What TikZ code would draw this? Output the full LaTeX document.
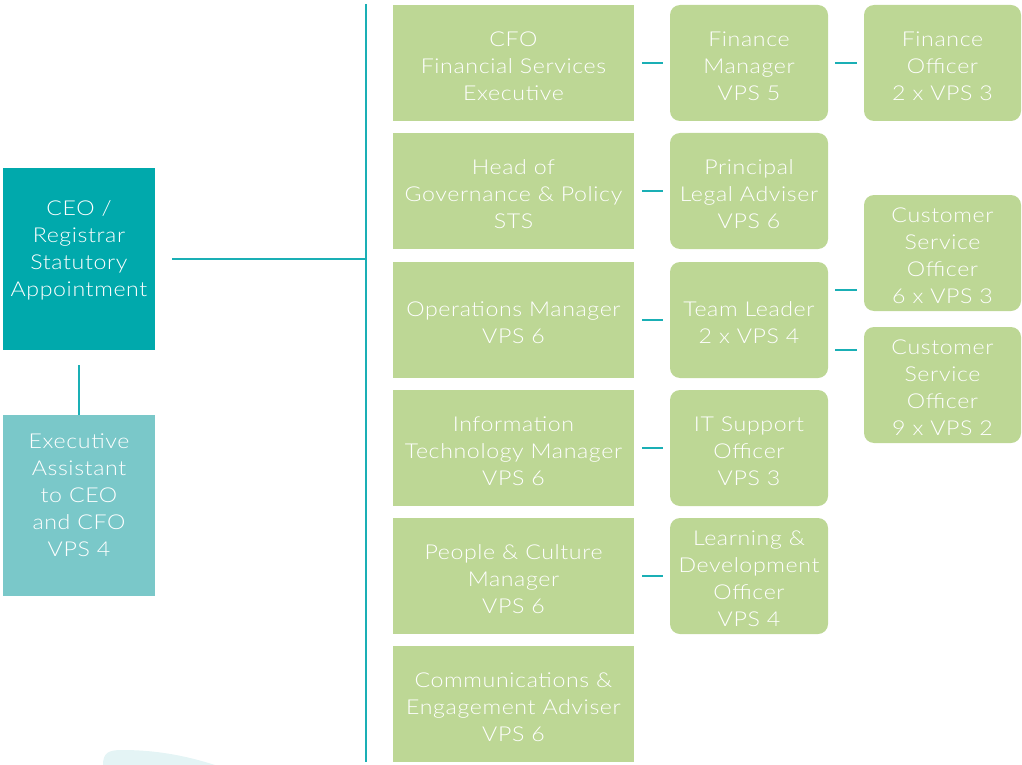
\documentclass[tikz,border=0pt]{standalone}
\usepackage{fontspec}
\setmainfont{Lato}[UprightFont={* Light},FakeStretch=1.13,LetterSpace=3]
\definecolor{boxgreen}{HTML}{BDD795}
\definecolor{ceoteal}{HTML}{00A9AC}
\definecolor{eateal}{HTML}{7AC8C9}
\definecolor{lineteal}{HTML}{1AAFB5}
\definecolor{bgcurve}{HTML}{E4F4F5}
\newcommand{\firstln}{\rule{0pt}{21pt}}
\begin{document}
\begin{tikzpicture}[x=1pt,y=1pt,
  base/.style={text=white, align=center, inner sep=0pt, font=\fontsize{20.5}{27}\selectfont},
  sq/.style={base, fill=boxgreen, minimum width=241pt, minimum height=116pt},
  rd/.style={base, fill=boxgreen, rounded corners=10pt, minimum width=158pt, minimum height=116pt},
  rdthree/.style={base, fill=boxgreen, rounded corners=10pt, minimum width=157pt, minimum height=116pt},
  ceobox/.style={base, fill=ceoteal, minimum width=152pt, minimum height=182pt},
  eabox/.style={base, fill=eateal, minimum width=152pt, minimum height=181pt},
  link/.style={draw=lineteal, line width=1.8pt}
]
\useasboundingbox (0,0) rectangle (1022,-765);
\fill[bgcurve] (103,-765) .. controls (103,-753) and (108,-750) .. (122,-750) .. controls (160,-750) and (190,-757) .. (215,-765) -- cycle;

% left
\node[ceobox] (ceo) at (79,-259) {\firstln CEO /\\Registrar\\Statutory\\Appointment\\\mbox{}};
\node[eabox] (ea) at (79,-505.5) {\firstln Executive\\Assistant\\to CEO\\and CFO\\VPS 4\\\mbox{}};

% column 1
\node[sq] (cfo) at (513.5,-63) {\firstln CFO\\Financial Services\\Executive};
\node[sq] (gov) at (513.5,-191) {\firstln Head of\\Governance \& Policy\\STS};
\node[sq] (ops) at (513.5,-320) {\firstln Operations Manager\\VPS 6};
\node[sq] (itm) at (513.5,-448) {\firstln Information\\Technology Manager\\VPS 6};
\node[sq] (pcm) at (513.5,-576) {\firstln People \& Culture\\Manager\\VPS 6};
\node[sq] (com) at (513.5,-704) {\firstln Communications \&\\Engagement Adviser\\VPS 6};

% column 2
\node[rd] (fm) at (749,-63) {\firstln Finance\\Manager\\VPS 5};
\node[rd] (pla) at (749,-191) {\firstln Principal\\Legal Adviser\\VPS 6};
\node[rd] (tl) at (749,-320) {\firstln Team Leader\\2 x VPS 4};
\node[rd] (its) at (749,-448) {\firstln IT Support\\Officer\\VPS 3};
\node[rd] (ld) at (749,-576) {\firstln Learning \&\\Development\\Officer\\VPS 4};

% column 3
\node[rdthree] (fo) at (942.5,-63) {\firstln Finance\\Officer\\2 x VPS 3};
\node[rdthree] (cso1) at (942.5,-253) {\firstln Customer\\Service\\Officer\\6 x VPS 3};
\node[rdthree] (cso2) at (942.5,-385) {\firstln Customer\\Service\\Officer\\9 x VPS 2};

% connectors
\coordinate (busT) at (366,-4);
\coordinate (busB) at (366,-762);
\coordinate (busJ) at (366,-259);
\draw[link] (busT) -- (busB);
\draw[link] ([xshift=17pt]ceo.east) -- (busJ);
\draw[link] ([yshift=-15pt]ceo.south) -- (ea.north);

\draw[link] ([xshift=8pt]cfo.east) -- ([xshift=-7pt]fm.west);
\draw[link] ([xshift=8pt]gov.east) -- ([xshift=-7pt]pla.west);
\draw[link] ([xshift=8pt]ops.east) -- ([xshift=-7pt]tl.west);
\draw[link] ([xshift=8pt]itm.east) -- ([xshift=-7pt]its.west);
\draw[link] ([xshift=8pt]pcm.east) -- ([xshift=-7pt]ld.west);

\draw[link] ([xshift=7pt]fm.east) -- ([xshift=-7pt]fo.west);
\draw[link] ([xshift=7pt,yshift=30pt]tl.east) -- ([xshift=-7pt,yshift=-37pt]cso1.west);
\draw[link] ([xshift=7pt,yshift=-30pt]tl.east) -- ([xshift=-7pt,yshift=35pt]cso2.west);
\end{tikzpicture}
\end{document}
